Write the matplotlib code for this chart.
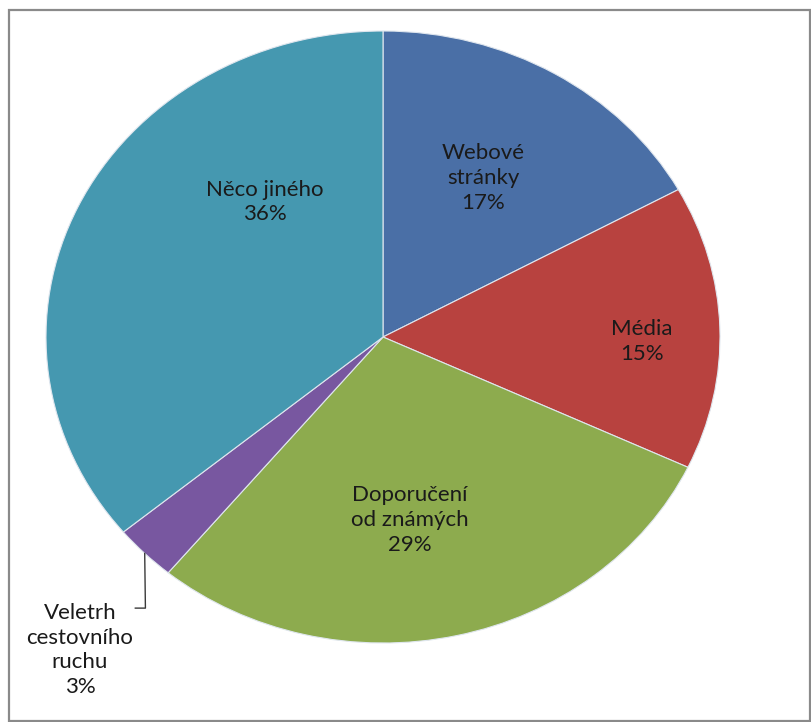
import numpy as np
import matplotlib
matplotlib.use("Agg")
import matplotlib.pyplot as plt
from matplotlib.patches import Rectangle

# Data
categories = ["Webové\nstránky", "Média", "Doporučení\nod známých",
              "Veletrh\ncestovního\nruchu", "Něco jiného"]
shares = [17, 15, 29, 3, 36]
colors = ["#4a6fa6", "#b8423f", "#8dab4e", "#7857a0", "#4598b0"]

# Label anchor points in data coordinates (pie spans -1..1 on both axes)
label_pos = [(0.297, 0.520), (0.769, -0.016), (0.080, -0.598),
             (-0.899, -1.023), (-0.350, 0.441)]

W, H = 811, 722
fig = plt.figure(figsize=(W / 100, H / 100), dpi=100)
fig.patch.set_facecolor("white")

# Outer chart frame
fig.add_artist(Rectangle((9 / W, 1 - 721 / H), (810 - 9) / W, (721 - 10) / H,
                         transform=fig.transFigure, fill=False,
                         edgecolor="#8a8a8a", linewidth=1.6))

# Plot area: the pie is slightly squashed vertically
left, right, top, bottom = 46, 720, 31, 643
ax = fig.add_axes([left / W, 1 - bottom / H, (right - left) / W, (bottom - top) / H])

wedges, _ = ax.pie(shares, colors=colors, startangle=90, counterclock=False,
                   radius=1.0,
                   wedgeprops=dict(edgecolor="#dfe6ee", linewidth=0.8))
ax.set_aspect("auto")
ax.set_xlim(-1, 1)
ax.set_ylim(-1, 1)
ax.axis("off")

for cat, val, (x, y) in zip(categories, shares, label_pos):
    ax.text(x, y, f"{cat}\n{val}%", ha="center", va="center",
            fontsize=16, family="Lato", color="#1a1a1a", linespacing=1.3,
            clip_on=False)

# Leader line for the small slice
w = wedges[3]
mid = np.deg2rad((w.theta1 + w.theta2) / 2)
ex, ey = np.cos(mid), np.sin(mid)
ax.plot([-0.735, -0.705, ex], [-0.886, -0.886, ey], color="#3a3a3a",
        linewidth=1.0, clip_on=False)

fig.savefig("out.png", dpi=100, facecolor="white")
